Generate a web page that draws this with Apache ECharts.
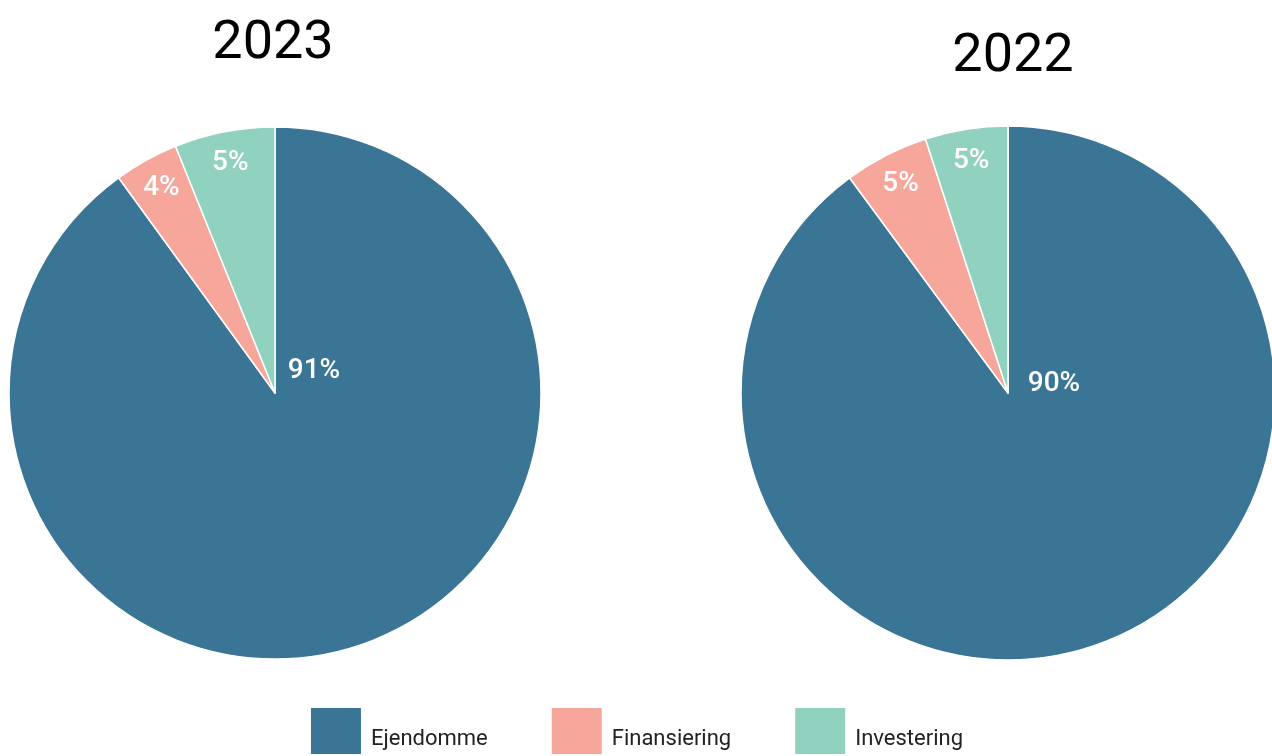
<!DOCTYPE html>
<html>
<head>
<meta charset="utf-8">
<script src="https://cdn.jsdelivr.net/npm/echarts@6/dist/echarts.min.js"></script>
<style>
  html, body { margin: 0; padding: 0; background: #fff; }
  #chart { width: 1272px; height: 756px; }
</style>
</head>
<body>
<div id="chart"></div>
<script>
// data
const categories = ["Ejendomme", "Finansiering", "Investering"];
const years = ["2023", "2022"];
const values2023 = [90, 3.9, 6.1];
const values2022 = [89.9, 5.1, 5];
const labels2023 = ["91%", "4%", "5%"];
const labels2022 = ["90%", "5%", "5%"];

const colors = ["#3a7596", "#f6a69b", "#90d1c0"];
const font = "Roboto";

const chart = echarts.init(document.getElementById("chart"));

// big slice label sits just right of the centre, small ones near the rim
function pieSeries(values, labels, center, radius, bigOffset) {
  const base = {
    type: "pie",
    center: center,
    radius: radius,
    startAngle: 90,
    clockwise: true,
    animation: false,
    silent: true,
    labelLine: { show: false }
  };
  const main = Object.assign({}, base, {
    itemStyle: { borderColor: "#fff", borderWidth: 1.5 },
    data: categories.map((c, i) => ({
      name: c,
      value: values[i],
      label: i === 0 ? {
        show: true, position: "center", formatter: labels[i],
        offset: bigOffset, color: "#fff", fontSize: 28, fontWeight: 500, fontFamily: font
      } : { show: false }
    }))
  });
  const rim = Object.assign({}, base, {
    radius: [radius * 0.74, radius],
    itemStyle: { color: "transparent", borderWidth: 0 },
    legendHoverLink: false,
    data: categories.map((c, i) => ({
      name: c,
      value: values[i],
      label: i === 0 ? { show: false } : {
        show: true, position: "inside", formatter: labels[i],
        color: "#fff", fontSize: 28, fontWeight: 500, fontFamily: font
      }
    }))
  });
  return [main, rim];
}

const option = {
  backgroundColor: "#fff",
  color: colors,
  title: [
    { text: years[0], left: 268, top: 12, textAlign: "center",
      textStyle: { fontSize: 54, fontWeight: 400, color: "#000", fontFamily: font } },
    { text: years[1], left: 1008, top: 25, textAlign: "center",
      textStyle: { fontSize: 54, fontWeight: 400, color: "#000", fontFamily: font } }
  ],
  legend: {
    data: categories,
    bottom: -5,
    left: "center",
    icon: "rect",
    itemWidth: 52,
    itemHeight: 48,
    itemGap: 62,
    // blank first line pushes the name a little below the middle of the square
    formatter: name => "\n" + name,
    textStyle: { fontSize: 22, color: "#222", fontFamily: font, padding: [0, 0, 0, 4], lineHeight: 16 }
  },
  series: [
    ...pieSeries(values2023, labels2023, [275, 393], 266, [39, -22]),
    ...pieSeries(values2022, labels2022, [1008, 393], 267, [46, -9])
  ]
};

chart.setOption(option);
</script>
</body>
</html>
